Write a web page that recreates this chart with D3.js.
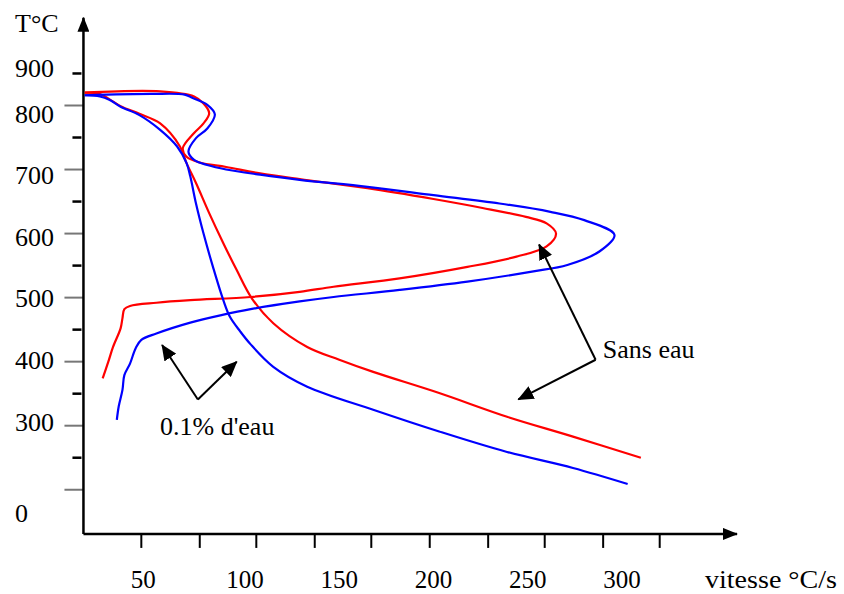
<!DOCTYPE html>
<html>
<head>
<meta charset="utf-8">
<script src="https://cdn.jsdelivr.net/npm/d3@7/dist/d3.min.js"></script>
<style>
  body { margin: 0; background: #fff; }
  text { font-family: "Liberation Serif", "Times New Roman", serif; fill: #000; font-size: 26px; }
</style>
</head>
<body>
<svg width="844" height="594"></svg>
<script>
// values: [vitesse °C/s, T °C]
var blueUpper = [[15,816],[50,818],[68,817],[72,812],[80,801],[84,786],[80,764],[74,749],[70,728],[73,715],[80,707],[90,700],
  [108,692],[129,684],[165,673],[200,660],[235,647],[262,634],[280,621],[296,598],[288,572],[271,551],[253,541],
  [218,525],[182,512],[147,501],[129,494],[103,482],[88,473],[71,461],[53,444],[45,434],[42,421],[39,397],[36,379],
  [35,356],[33,330],[32,309]];
var redUpper = [[15,820],[55,822],[73,814],[78,803],[81,788],[78,772],[73,757],[67,733],[69,720],[76,711],[90,704],
  [108,694],[129,685],[165,671],[200,654],[226,640],[249,626],[260,616],[265,600],[260,580],[244,564],[218,548],
  [182,530],[147,517],[129,509],[103,501],[71,496],[53,492],[39,487],[36,482],[35,468],[34,452],[30,423],[27.5,400],[24.5,374]];
var blueLower = [[15,816],[23,814],[28,809],[34,798],[44,785],[55,762],[64,736],[69,710],[71,689],[74,647],[78,600],
  [83,548],[88.5,496],[92,470],[97.5,447],[103,427],[115,392],[133,361],[168,325],[203,291],[239,259],[274,234],[303,209]];
var redLower = [[15,820],[23,818],[28,810],[34,799],[44,787],[55,772],[65.5,736],[69,710],[74,679],[81,632],[88.5,585],
  [95.6,543],[103.6,499],[115,460],[133,423],[150,403],[168,384],[203,351],[239,314],[274,283],[310,250]];

var xTicks = [45, 76, 106, 137, 167, 198, 229, 259, 290, 320];
var xLabels = ["50", "100", "150", "200", "250", "300"];
var xLabelAt = [46, 100, 150, 200, 250, 300];
var yMajor = [800, 700, 600, 500, 400, 300, 200];
var yMinor = [850, 750, 650, 550, 450, 350, 250];
var yLabels = ["900", "800", "700", "600", "500", "400", "300", "0"];
var yLabelAt = [845, 773, 677, 580, 485, 388, 291, 149];

// annotations: [vertex, tip1, tip2]
var sansEau = [[286,403],[256,583],[245,341]];
var eau01 = [[75,341],[56,426],[95.6,400]];

var svg = d3.select("svg");

var x = d3.scaleLinear().domain([100, 300]).range([245, 622]);
var y = d3.scaleLinear().domain([800, 300]).range([105.5, 425.7]);

var defs = svg.append("defs");
defs.append("marker")
    .attr("id", "head")
    .attr("viewBox", "0 0 16 14")
    .attr("refX", 15).attr("refY", 7)
    .attr("markerWidth", 16).attr("markerHeight", 14)
    .attr("markerUnits", "userSpaceOnUse")
    .attr("orient", "auto")
  .append("path").attr("d", "M0,0L16,7L0,14Z").attr("fill", "#000");
defs.append("marker")
    .attr("id", "axhead")
    .attr("viewBox", "0 0 15 12")
    .attr("refX", 14).attr("refY", 6)
    .attr("markerWidth", 15).attr("markerHeight", 12)
    .attr("markerUnits", "userSpaceOnUse")
    .attr("orient", "auto")
  .append("path").attr("d", "M0,0L15,6L0,12Z").attr("fill", "#000");

var x0 = 14.3, y0 = 131, xEnd = 361, yEnd = 937;

// ticks
svg.selectAll(".ymaj").data(yMajor).enter().append("line")
    .attr("x1", x(x0) - 19).attr("x2", x(x0))
    .attr("y1", function(d) { return y(d); }).attr("y2", function(d) { return y(d); })
    .attr("stroke", "#777").attr("stroke-width", 2);
svg.selectAll(".ymin").data(yMinor).enter().append("line")
    .attr("x1", x(x0) - 11).attr("x2", x(x0) - 2)
    .attr("y1", function(d) { return y(d); }).attr("y2", function(d) { return y(d); })
    .attr("stroke", "#000").attr("stroke-width", 2.5);
svg.selectAll(".xt").data(xTicks).enter().append("line")
    .attr("x1", function(d) { return x(d); }).attr("x2", function(d) { return x(d); })
    .attr("y1", y(y0)).attr("y2", y(y0) + 14)
    .attr("stroke", "#000").attr("stroke-width", 2);

// axes
svg.append("line")
    .attr("x1", x(x0)).attr("y1", y(y0)).attr("x2", x(x0)).attr("y2", y(yEnd))
    .attr("stroke", "#000").attr("stroke-width", 2.5).attr("marker-end", "url(#axhead)");
svg.append("line")
    .attr("x1", x(x0)).attr("y1", y(y0)).attr("x2", x(xEnd)).attr("y2", y(y0))
    .attr("stroke", "#000").attr("stroke-width", 2.5).attr("marker-end", "url(#axhead)");

// labels
svg.selectAll(".yl").data(yLabels).enter().append("text")
    .attr("x", 15)
    .attr("y", function(d, i) { return y(yLabelAt[i]); })
    .text(function(d) { return d; });
svg.selectAll(".xl").data(xLabels).enter().append("text")
    .attr("x", function(d, i) { return x(xLabelAt[i]); })
    .attr("y", 588)
    .attr("text-anchor", "middle")
    .style("font-size", "25px")
    .text(function(d) { return d; });
svg.append("text").attr("x", 15).attr("y", 32).text("T°C");
svg.append("text").attr("x", 705).attr("y", 588)
    .style("font-size", "25px")
    .attr("textLength", 132).attr("lengthAdjust", "spacingAndGlyphs")
    .text("vitesse °C/s");

// curves
var line = d3.line()
    .x(function(d) { return x(d[0]); })
    .y(function(d) { return y(d[1]); })
    .curve(d3.curveCatmullRom.alpha(0.5));

[[redUpper, "#ff0000"], [redLower, "#ff0000"], [blueUpper, "#0000ff"], [blueLower, "#0000ff"]].forEach(function(s) {
  svg.append("path")
      .attr("d", line(s[0]))
      .attr("fill", "none")
      .attr("stroke", s[1])
      .attr("stroke-width", 2.2);
});

// annotation arrows
[sansEau, eau01].forEach(function(a) {
  [a[1], a[2]].forEach(function(t) {
    svg.append("line")
        .attr("x1", x(a[0][0])).attr("y1", y(a[0][1]))
        .attr("x2", x(t[0])).attr("y2", y(t[1]))
        .attr("stroke", "#000").attr("stroke-width", 2)
        .attr("marker-end", "url(#head)");
  });
});
svg.append("text").attr("x", x(289.8)).attr("y", y(406)).text("Sans eau");
svg.append("text").attr("x", x(54.9)).attr("y", y(285.5)).text("0.1% d'eau");
</script>
</body>
</html>
